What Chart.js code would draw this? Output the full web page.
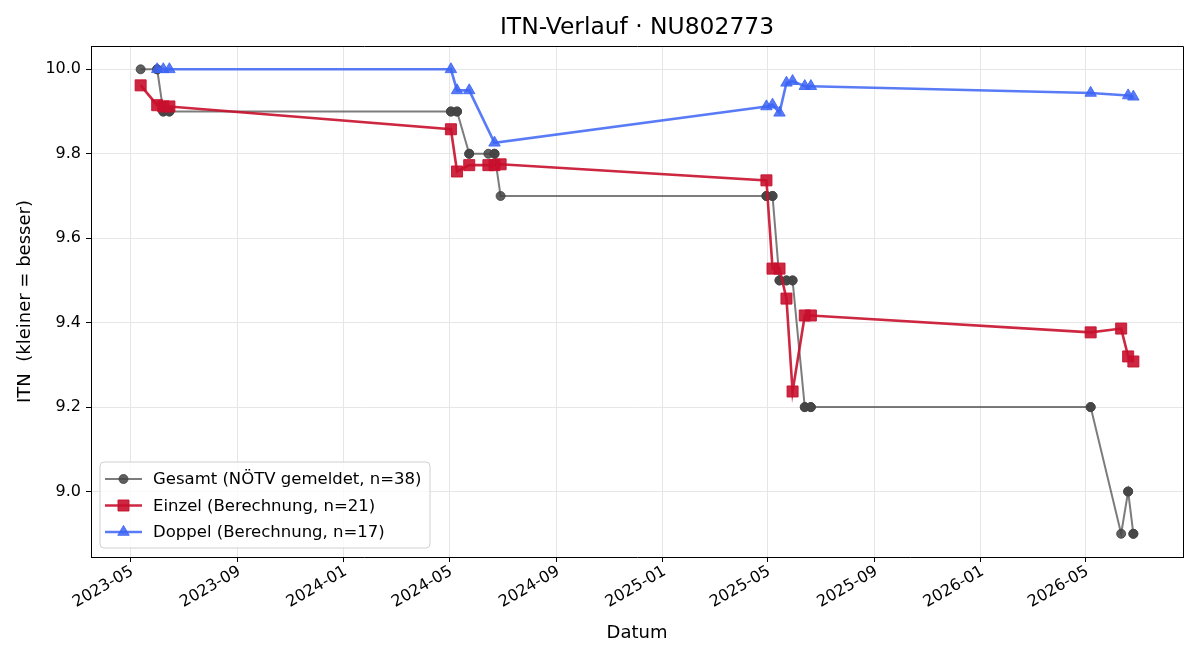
<!DOCTYPE html>
<html>
<head>
<meta charset="utf-8">
<script src="https://cdn.jsdelivr.net/npm/chart.js@4.4.1/dist/chart.umd.min.js"></script>
<style>
  html, body { margin: 0; padding: 0; background: #fff; }
  #wrap { width: 1200px; height: 660px; }
</style>
</head>
<body>
<div id="wrap"><canvas id="itnChart" width="1200" height="660"></canvas></div>
<script>
// Werte
var gesamtDates = [
  '2023-05-13', '2023-06-01', '2023-06-01', '2023-06-08', '2023-06-08', '2023-06-15', '2023-06-15',
  '2024-05-03', '2024-05-03', '2024-05-10', '2024-05-10', '2024-05-24', '2024-05-24', '2024-06-15',
  '2024-06-22', '2024-06-22', '2024-06-29',
  '2025-04-30', '2025-04-30', '2025-05-07', '2025-05-07', '2025-05-15', '2025-05-15', '2025-05-23',
  '2025-05-23', '2025-05-30', '2025-05-30', '2025-06-13', '2025-06-13', '2025-06-20', '2025-06-20',
  '2026-05-07', '2026-05-07', '2026-06-11', '2026-06-19', '2026-06-19', '2026-06-25', '2026-06-25'
];
var gesamtValues = [
  10.0, 10.0, 10.0, 9.9, 9.9, 9.9, 9.9,
  9.9, 9.9, 9.9, 9.9, 9.8, 9.8, 9.8, 9.8, 9.8, 9.7,
  9.7, 9.7, 9.7, 9.7, 9.5, 9.5, 9.5, 9.5, 9.5, 9.5, 9.2, 9.2, 9.2, 9.2,
  9.2, 9.2, 8.9, 9.0, 9.0, 8.9, 8.9
];

var einzelDates = [
  '2023-05-13', '2023-06-01', '2023-06-08', '2023-06-15',
  '2024-05-03', '2024-05-10', '2024-05-24', '2024-06-15', '2024-06-22', '2024-06-29',
  '2025-04-30', '2025-05-07', '2025-05-15', '2025-05-23', '2025-05-30', '2025-06-13', '2025-06-20',
  '2026-05-07', '2026-06-11', '2026-06-19', '2026-06-25'
];
var einzelValues = [
  9.962, 9.915, 9.912, 9.912,
  9.858, 9.758, 9.773, 9.773, 9.773, 9.775,
  9.737, 9.528, 9.528, 9.457, 9.237, 9.417, 9.417,
  9.377, 9.386, 9.320, 9.308
];

var doppelDates = [
  '2023-06-01', '2023-06-08', '2023-06-15',
  '2024-05-03', '2024-05-10', '2024-05-24', '2024-06-22',
  '2025-04-30', '2025-05-07', '2025-05-15', '2025-05-23', '2025-05-30', '2025-06-13', '2025-06-20',
  '2026-05-07', '2026-06-19', '2026-06-25'
];
var doppelValues = [
  10.0, 10.0, 10.0,
  10.0, 9.95, 9.95, 9.826,
  9.912, 9.916, 9.897, 9.968, 9.972, 9.96, 9.96,
  9.944, 9.938, 9.935
];

var seriesLabels = [
  'Gesamt (NÖTV gemeldet, n=38)',
  'Einzel (Berechnung, n=21)',
  'Doppel (Berechnung, n=17)'
];

var xTickLabels = ['2023-05', '2023-09', '2024-01', '2024-05', '2024-09', '2025-01',
                   '2025-05', '2025-09', '2026-01', '2026-05'];
var yTickValues = [9.0, 9.2, 9.4, 9.6, 9.8, 10.0];

function toTime(s) {
  var p = s.split('-');
  return Date.UTC(+p[0], +p[1] - 1, p[2] ? +p[2] : 1);
}
function toPoints(dates, values) {
  var arr = [];
  for (var i = 0; i < dates.length; i++) arr.push({x: toTime(dates[i]), y: values[i]});
  return arr;
}
function fmtMonth(v) {
  var d = new Date(v);
  var m = d.getUTCMonth() + 1;
  return d.getUTCFullYear() + '-' + (m < 10 ? '0' + m : m);
}

// Achsenbereich wie matplotlib: 5 % Rand
var allT = gesamtDates.concat(einzelDates, doppelDates).map(toTime);
var tMin = Math.min.apply(null, allT), tMax = Math.max.apply(null, allT);
var tPad = (tMax - tMin) * 0.05;
var allY = gesamtValues.concat(einzelValues, doppelValues);
var yMin = Math.min.apply(null, allY), yMax = Math.max.apply(null, allY);
var yPad = (yMax - yMin) * 0.05;

var FONT = 'DejaVu Sans';
Chart.defaults.font.family = FONT;
Chart.defaults.color = '#000';

var grayLine = 'rgba(68,68,68,0.7)', grayPt = 'rgba(68,68,68,0.85)';
var redLine = 'rgba(200,16,46,0.9)';
var blueLine = 'rgba(60,100,245,0.85)';

// Rahmen oben/rechts
var frame = {
  id: 'frame',
  afterDraw: function(chart) {
    var a = chart.chartArea, ctx = chart.ctx;
    ctx.save();
    ctx.strokeStyle = '#000';
    ctx.lineWidth = 1;
    ctx.beginPath();
    ctx.moveTo(Math.round(a.left) + 0.5, Math.round(a.top) + 0.5);
    ctx.lineTo(Math.round(a.right) + 0.5, Math.round(a.top) + 0.5);
    ctx.lineTo(Math.round(a.right) + 0.5, Math.round(a.bottom) + 0.5);
    ctx.stroke();
    ctx.restore();
  }
};

// Legende unten links im Plot
var legendBox = {
  id: 'legendBox',
  afterDraw: function(chart) {
    var a = chart.chartArea, ctx = chart.ctx;
    var w = 330, h = 86, r = 4;
    var x0 = a.left + 9, y0 = a.bottom - 9 - h;
    ctx.save();
    ctx.beginPath();
    ctx.moveTo(x0 + r, y0);
    ctx.lineTo(x0 + w - r, y0);
    ctx.quadraticCurveTo(x0 + w, y0, x0 + w, y0 + r);
    ctx.lineTo(x0 + w, y0 + h - r);
    ctx.quadraticCurveTo(x0 + w, y0 + h, x0 + w - r, y0 + h);
    ctx.lineTo(x0 + r, y0 + h);
    ctx.quadraticCurveTo(x0, y0 + h, x0, y0 + h - r);
    ctx.lineTo(x0, y0 + r);
    ctx.quadraticCurveTo(x0, y0, x0 + r, y0);
    ctx.closePath();
    ctx.fillStyle = 'rgba(255,255,255,0.8)';
    ctx.fill();
    ctx.strokeStyle = '#d0d0d0';
    ctx.lineWidth = 1;
    ctx.stroke();

    chart.data.datasets.forEach(function(ds, i) {
      var cy = y0 + 17 + i * 26.5;
      ctx.strokeStyle = ds.borderColor;
      ctx.lineWidth = ds.borderWidth;
      ctx.beginPath();
      ctx.moveTo(x0 + 5, cy);
      ctx.lineTo(x0 + 42, cy);
      ctx.stroke();
      ctx.fillStyle = ds.pointBackgroundColor;
      ctx.strokeStyle = ds.pointBorderColor;
      ctx.lineWidth = 1;
      Chart.helpers.drawPoint(ctx, {pointStyle: ds.pointStyle, radius: ds.pointRadius, rotation: 0, borderWidth: 1}, x0 + 23.5, cy);
      ctx.fillStyle = '#000';
      ctx.font = '16.5px "' + FONT + '"';
      ctx.textAlign = 'left';
      ctx.textBaseline = 'middle';
      ctx.fillText(ds.label, x0 + 53, cy + 1);
    });
    ctx.restore();
  }
};

var config = {
  type: 'line',
  data: {
    datasets: [{
      label: seriesLabels[0],
      data: toPoints(gesamtDates, gesamtValues),
      borderColor: grayLine,
      borderWidth: 2,
      pointStyle: 'circle',
      pointRadius: 4.5,
      pointBackgroundColor: grayPt,
      pointBorderColor: grayPt,
      pointBorderWidth: 1,
      order: 3
    }, {
      label: seriesLabels[1],
      data: toPoints(einzelDates, einzelValues),
      borderColor: redLine,
      borderWidth: 2.6,
      pointStyle: 'rect',
      pointRadius: 7.8,
      pointBackgroundColor: redLine,
      pointBorderColor: redLine,
      pointBorderWidth: 1,
      order: 2
    }, {
      label: seriesLabels[2],
      data: toPoints(doppelDates, doppelValues),
      borderColor: blueLine,
      borderWidth: 2.6,
      pointStyle: 'triangle',
      pointRadius: 6.6,
      pointBackgroundColor: blueLine,
      pointBorderColor: blueLine,
      pointBorderWidth: 1,
      order: 1
    }]
  },
  options: {
    responsive: false,
    animation: false,
    devicePixelRatio: 1,
    layout: { padding: { left: 0, right: 17, top: 0, bottom: 0 } },
    plugins: {
      legend: { display: false },
      tooltip: { enabled: false },
      title: {
        display: true,
        fullSize: false,
        text: 'ITN-Verlauf · NU802773',
        color: '#000',
        font: { size: 23.4, weight: 'normal', family: FONT, lineHeight: 1.2 },
        padding: { top: 14, bottom: 4 }
      }
    },
    scales: {
      x: {
        type: 'linear',
        min: tMin - tPad,
        max: tMax + tPad,
        afterBuildTicks: function(scale) {
          scale.ticks = xTickLabels.map(function(s) { return {value: toTime(s)}; });
        },
        afterFit: function(scale) { scale.height = 103; },
        ticks: {
          autoSkip: false,
          minRotation: 30,
          maxRotation: 30,
          padding: 0,
          labelOffset: 2,
          color: '#000',
          font: { size: 16 },
          callback: function(v) { return fmtMonth(v); }
        },
        grid: { color: '#e6e6e6', lineWidth: 1, drawTicks: true, tickLength: 5, tickColor: '#000' },
        border: { display: true, color: '#000', width: 1 },
        title: {
          display: true,
          text: 'Datum',
          color: '#000',
          font: { size: 18, lineHeight: 1.2 },
          padding: { top: 4, bottom: 16 }
        }
      },
      y: {
        type: 'linear',
        min: yMin - yPad,
        max: yMax + yPad,
        afterBuildTicks: function(scale) {
          scale.ticks = yTickValues.map(function(v) { return {value: v}; });
        },
        afterFit: function(scale) { scale.width = 91; },
        ticks: {
          padding: 5,
          color: '#000',
          font: { size: 16 },
          callback: function(v) { return v.toFixed(1); }
        },
        grid: { color: '#e6e6e6', lineWidth: 1, drawTicks: true, tickLength: 5, tickColor: '#000' },
        border: { display: true, color: '#000', width: 1 },
        title: {
          display: true,
          text: 'ITN  (kleiner = besser)',
          color: '#000',
          font: { size: 18, lineHeight: 1.2 },
          padding: { top: 15, bottom: 4 }
        }
      }
    }
  },
  plugins: [frame, legendBox]
};

window.itn_chart = new Chart(document.getElementById('itnChart').getContext('2d'), config);
</script>
</body>
</html>
